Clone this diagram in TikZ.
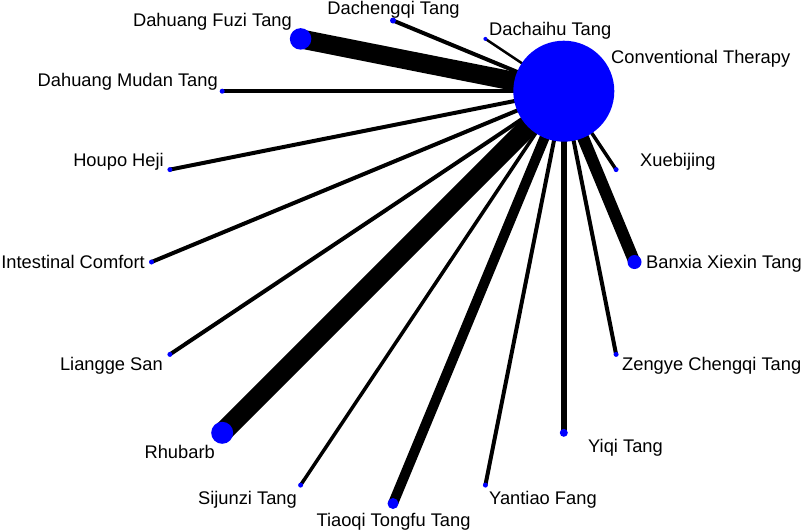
\documentclass[tikz,border=0pt]{standalone}
\usepackage{fontspec}
\setmainfont{Liberation Sans}
\usetikzlibrary{backgrounds}
\definecolor{nodeblue}{RGB}{0,0,255}
\begin{document}
\begin{tikzpicture}[x=1pt,y=-1pt,
  dot/.style={circle,fill=nodeblue,draw=none,inner sep=0pt,minimum size=#1},
  lab/.style={inner sep=0pt,font=\fontsize{18.3}{18.3}\selectfont},
  link/.style={line width=#1,draw=black}]
\useasboundingbox (0,0) rectangle (803,531);
% nodes on a circle, centre (393,262), radius 241.5
\node[dot=101pt] (ct) at (563.8,91.2) {};
\node[dot=6pt]   (dcq) at (393,20.5) {};
\node[dot=4pt]   (dch) at (485.4,38.9) {};
\node[dot=5pt]   (xbj) at (616.1,169.6) {};
\node[dot=14pt]  (bxx) at (634.5,262) {};
\node[dot=5pt]   (zyc) at (616.1,354.4) {};
\node[dot=8pt]   (yqt) at (563.8,432.8) {};
\node[dot=5pt]   (ytf) at (485.4,485.1) {};
\node[dot=11pt]  (ttt) at (393,503.5) {};
\node[dot=5pt]   (sjz) at (300.6,485.1) {};
\node[dot=22pt]  (rhb) at (222.2,432.8) {};
\node[dot=5pt]   (lgs) at (169.9,354.4) {};
\node[dot=5pt]   (itc) at (151.5,262) {};
\node[dot=5pt]   (hph) at (169.9,169.6) {};
\node[dot=5pt]   (dmd) at (222.2,91.2) {};
\node[dot=21.5pt] (dfz) at (300.6,38.9) {};
% connectors
\begin{scope}[on background layer]
\draw[link=4pt]   (ct.center) -- (dcq.center);
\draw[link=2.5pt] (ct.center) -- (dch.center);
\draw[link=3.5pt] (ct.center) -- (xbj.center);
\draw[link=12pt]  (ct.center) -- (bxx.center);
\draw[link=4pt]   (ct.center) -- (zyc.center);
\draw[link=6pt]   (ct.center) -- (yqt.center);
\draw[link=4pt]   (ct.center) -- (ytf.center);
\draw[link=10pt]  (ct.center) -- (ttt.center);
\draw[link=3.5pt] (ct.center) -- (sjz.center);
\draw[link=20pt]  (ct.center) -- (rhb.center);
\draw[link=4pt]   (ct.center) -- (lgs.center);
\draw[link=4pt]   (ct.center) -- (itc.center);
\draw[link=4pt]   (ct.center) -- (hph.center);
\draw[link=4pt]   (ct.center) -- (dmd.center);
\draw[link=19pt]  (ct.center) -- (dfz.center);
\end{scope}
% labels
\node[lab,anchor=base] (l-dcq) at (393.5,14) {Dachengqi Tang};
\node[lab,anchor=base west] (l-dch) at (489,35) {Dachaihu Tang};
\node[lab,anchor=base west] (l-ct) at (611,63.5) {Conventional Therapy};
\node[lab,anchor=base west] (l-xbj) at (640,166) {Xuebijing};
\node[lab,anchor=base west] (l-bxx) at (646,268) {Banxia Xiexin Tang};
\node[lab,anchor=base west] (l-zyc) at (622,370.5) {Zengye Chengqi Tang};
\node[lab,anchor=base west] (l-yqt) at (588,452) {Yiqi Tang};
\node[lab,anchor=base west] (l-ytf) at (489,504) {Yantiao Fang};
\node[lab,anchor=base] (l-ttt) at (393.5,526) {Tiaoqi Tongfu Tang};
\node[lab,anchor=base east] (l-sjz) at (297,504) {Sijunzi Tang};
\node[lab,anchor=base east] (l-rhb) at (215,458) {Rhubarb};
\node[lab,anchor=base east] (l-lgs) at (163,370.5) {Liangge San};
\node[lab,anchor=base east] (l-itc) at (145,268.5) {Intestinal Comfort};
\node[lab,anchor=base east] (l-hph) at (164,166.5) {Houpo Heji};
\node[lab,anchor=base east] (l-dmd) at (218,86) {Dahuang Mudan Tang};
\node[lab,anchor=base east] (l-dfz) at (292,26.7) {Dahuang Fuzi Tang};
\end{tikzpicture}
\end{document}
